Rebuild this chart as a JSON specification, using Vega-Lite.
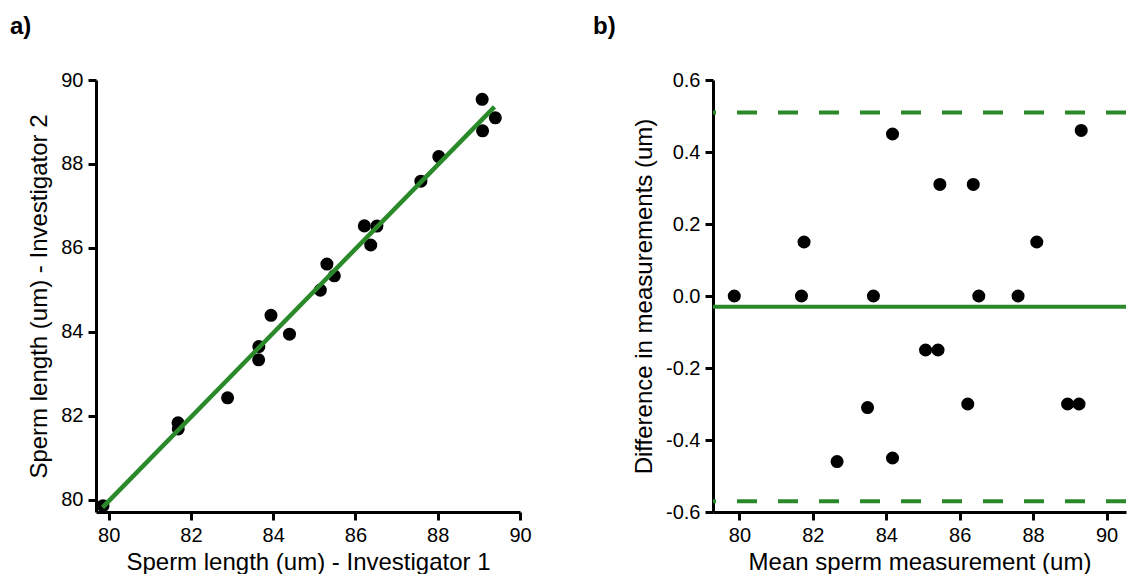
{
  "$schema": "https://vega.github.io/schema/vega-lite/v6.json",
  "padding": {"left": 10, "top": 15, "right": 0, "bottom": 0},
  "background": "white",
  "spacing": 61,
  "datasets": {
    "pts": [
      {"inv1": 79.86, "inv2": 79.86, "mean": 79.86, "diff": 0.0},
      {"inv1": 81.69, "inv2": 81.69, "mean": 81.69, "diff": 0.0},
      {"inv1": 81.685, "inv2": 81.835, "mean": 81.76, "diff": 0.15},
      {"inv1": 82.89, "inv2": 82.43, "mean": 82.66, "diff": -0.46},
      {"inv1": 83.645, "inv2": 83.335, "mean": 83.49, "diff": -0.31},
      {"inv1": 83.65, "inv2": 83.65, "mean": 83.65, "diff": 0.0},
      {"inv1": 83.945, "inv2": 84.395, "mean": 84.17, "diff": 0.45},
      {"inv1": 84.395, "inv2": 83.945, "mean": 84.17, "diff": -0.45},
      {"inv1": 85.145, "inv2": 84.995, "mean": 85.07, "diff": -0.15},
      {"inv1": 85.485, "inv2": 85.335, "mean": 85.41, "diff": -0.15},
      {"inv1": 85.305, "inv2": 85.615, "mean": 85.46, "diff": 0.31},
      {"inv1": 86.37, "inv2": 86.07, "mean": 86.22, "diff": -0.3},
      {"inv1": 86.215, "inv2": 86.525, "mean": 86.37, "diff": 0.31},
      {"inv1": 86.52, "inv2": 86.52, "mean": 86.52, "diff": 0.0},
      {"inv1": 87.59, "inv2": 87.59, "mean": 87.59, "diff": 0.0},
      {"inv1": 88.025, "inv2": 88.175, "mean": 88.1, "diff": 0.15},
      {"inv1": 89.09, "inv2": 88.79, "mean": 88.94, "diff": -0.3},
      {"inv1": 89.4, "inv2": 89.1, "mean": 89.25, "diff": -0.3},
      {"inv1": 89.08, "inv2": 89.54, "mean": 89.31, "diff": 0.46}
    ],
    "fit": [
      {"x": 79.85, "y": 79.82},
      {"x": 89.38, "y": 89.36}
    ],
    "meanline": [{"y": -0.03}],
    "limits": [{"y": 0.51, "kind": "upper"}, {"y": -0.57, "kind": "lower"}]
  },
  "hconcat": [
    {
      "width": 424,
      "height": 432,
      "title": {"text": "a)", "anchor": "start", "frame": "group", "dx": -86, "offset": 31},
      "layer": [
        {
          "data": {"name": "pts"},
          "mark": {"type": "circle", "size": 170, "color": "black", "opacity": 1},
          "encoding": {
            "x": {"field": "inv1", "type": "quantitative",
              "scale": {"domain": [79.69, 90], "nice": false, "zero": false},
              "axis": {"values": [80, 82, 84, 86, 88, 90], "title": "Sperm length (um) - Investigator 1", "titlePadding": 5}},
            "y": {"field": "inv2", "type": "quantitative",
              "scale": {"domain": [79.71, 90], "nice": false, "zero": false},
              "axis": {"values": [80, 82, 84, 86, 88, 90], "title": "Sperm length (um) - Investigator 2", "titlePadding": 9}}
          }
        },
        {
          "data": {"name": "fit"},
          "mark": {"type": "line", "color": "#2a8a2a", "strokeWidth": 4.5},
          "encoding": {
            "x": {"field": "x", "type": "quantitative"},
            "y": {"field": "y", "type": "quantitative"}
          }
        }
      ]
    },
    {
      "width": 413,
      "height": 432,
      "title": {"text": "b)", "anchor": "start", "frame": "group", "dx": -120, "offset": 31},
      "layer": [
        {
          "data": {"name": "pts"},
          "mark": {"type": "circle", "size": 170, "color": "black", "opacity": 1},
          "encoding": {
            "x": {"field": "mean", "type": "quantitative",
              "scale": {"domain": [79.28, 90.53], "nice": false, "zero": false},
              "axis": {"values": [80, 82, 84, 86, 88, 90], "title": "Mean sperm measurement (um)", "titlePadding": 5}},
            "y": {"field": "diff", "type": "quantitative",
              "scale": {"domain": [-0.6, 0.6], "nice": false, "zero": false},
              "axis": {"values": [-0.6, -0.4, -0.2, 0, 0.2, 0.4, 0.6], "title": "Difference in measurements (um)", "titlePadding": 9,
                "labelExpr": "datum.value < 0 ? '-' + format(-datum.value, '.1f') : format(datum.value, '.1f')"}}
          }
        },
        {
          "data": {"name": "meanline"},
          "mark": {"type": "rule", "color": "#2a8a2a", "strokeWidth": 4},
          "encoding": {"y": {"field": "y", "type": "quantitative"}}
        },
        {
          "data": {"name": "limits"},
          "mark": {"type": "rule", "color": "#2a8a2a", "strokeWidth": 4, "strokeDash": [20, 21]},
          "encoding": {"y": {"field": "y", "type": "quantitative"}}
        }
      ]
    }
  ],
  "config": {
    "view": {"stroke": null},
    "title": {"font": "Liberation Sans", "fontSize": 24, "fontWeight": "bold", "color": "black"},
    "axis": {
      "grid": false,
      "domainColor": "black", "domainWidth": 3,
      "tickColor": "black", "tickWidth": 3, "tickSize": 8,
      "labelFont": "Liberation Sans", "labelFontSize": 20, "labelColor": "black", "labelPadding": 5,
      "labelFlush": false, "labelOverlap": false,
      "titleFont": "Liberation Sans", "titleFontSize": 24, "titleFontWeight": "normal", "titleColor": "black",
      "titlePadding": 3
    }
  }
}
